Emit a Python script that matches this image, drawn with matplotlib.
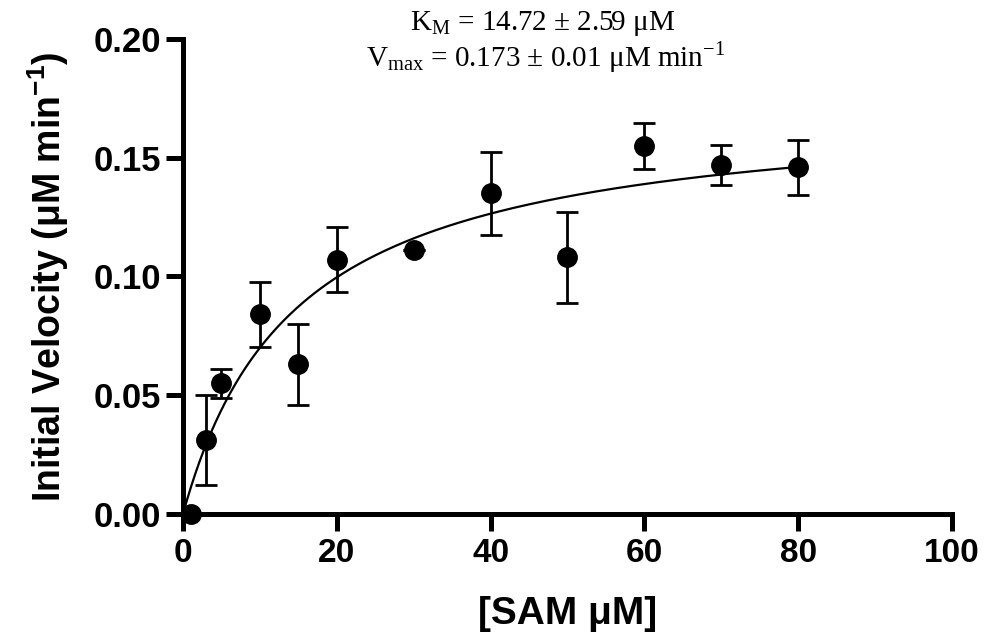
import matplotlib
matplotlib.use('Agg')
import matplotlib.pyplot as plt
import numpy as np

# SAM concentration (uM) and measured initial velocity (uM/min)
sam_conc = [1, 3, 5, 10, 15, 20, 30, 40, 50, 60, 70, 80]
velocity = [0.000, 0.031, 0.055, 0.084, 0.063, 0.107, 0.111, 0.135, 0.108, 0.155, 0.147, 0.146]
vel_err = [0.000, 0.019, 0.006, 0.0135, 0.017, 0.0137, 0.000, 0.0175, 0.019, 0.0098, 0.0085, 0.0115]

# Michaelis-Menten fit parameters
km = 14.72
vmax = 0.173

plt.rcParams['font.family'] = ['Liberation Sans', 'DejaVu Sans']
plt.rcParams['mathtext.fontset'] = 'custom'
plt.rcParams['mathtext.rm'] = 'Liberation Serif'
plt.rcParams['mathtext.bf'] = 'Liberation Sans:bold'

fig = plt.figure(figsize=(9.86, 6.38), dpi=100)
ax = fig.add_axes([0.1856, 0.1944, 0.7799, 0.7445])

# fitted curve
xf = np.linspace(0, 80, 300)
ax.plot(xf, vmax * xf / (km + xf), color='black', lw=1.6, zorder=2)

# points with error bars
ax.errorbar(sam_conc, velocity, yerr=vel_err, fmt='o', color='black',
            markersize=14, ecolor='black', elinewidth=2, capsize=8,
            capthick=2, clip_on=False, zorder=3)

ax.set_xlim(0, 100)
ax.set_ylim(0, 0.20)
ax.set_xticks([0, 20, 40, 60, 80, 100])
ax.set_yticks([0.00, 0.05, 0.10, 0.15, 0.20])
ax.set_yticklabels(['0.00', '0.05', '0.10', '0.15', '0.20'])

for side in ['top', 'right']:
    ax.spines[side].set_visible(False)
for side in ['left', 'bottom']:
    ax.spines[side].set_linewidth(3.6)
    ax.spines[side].set_capstyle('projecting')
ax.tick_params(axis='both', width=3.6, length=12, labelsize=24, pad=5)
ax.tick_params(axis='y', labelsize=25, pad=4)
for lab in ax.get_xticklabels() + ax.get_yticklabels():
    lab.set_fontweight('bold')

ax.set_xlabel('[SAM μM]', fontsize=28, fontweight='bold', labelpad=20)
ax.set_ylabel(r'Initial Velocity (μM min$^{\mathbf{-1}}$)', fontsize=27,
              fontweight='bold', labelpad=16)

fig.text(0.55, 0.963, r'$\mathrm{K_M}$ = 14.72 ± 2.59 μM', ha='center', va='center',
         fontsize=21, family=['Liberation Serif'])
fig.text(0.553, 0.910, r'$\mathrm{V_{max}}$ = 0.173 ± 0.01 μM min$^{\mathrm{-1}}$',
         ha='center', va='center', fontsize=21, family=['Liberation Serif'])

fig.savefig('out.png', dpi=100)
